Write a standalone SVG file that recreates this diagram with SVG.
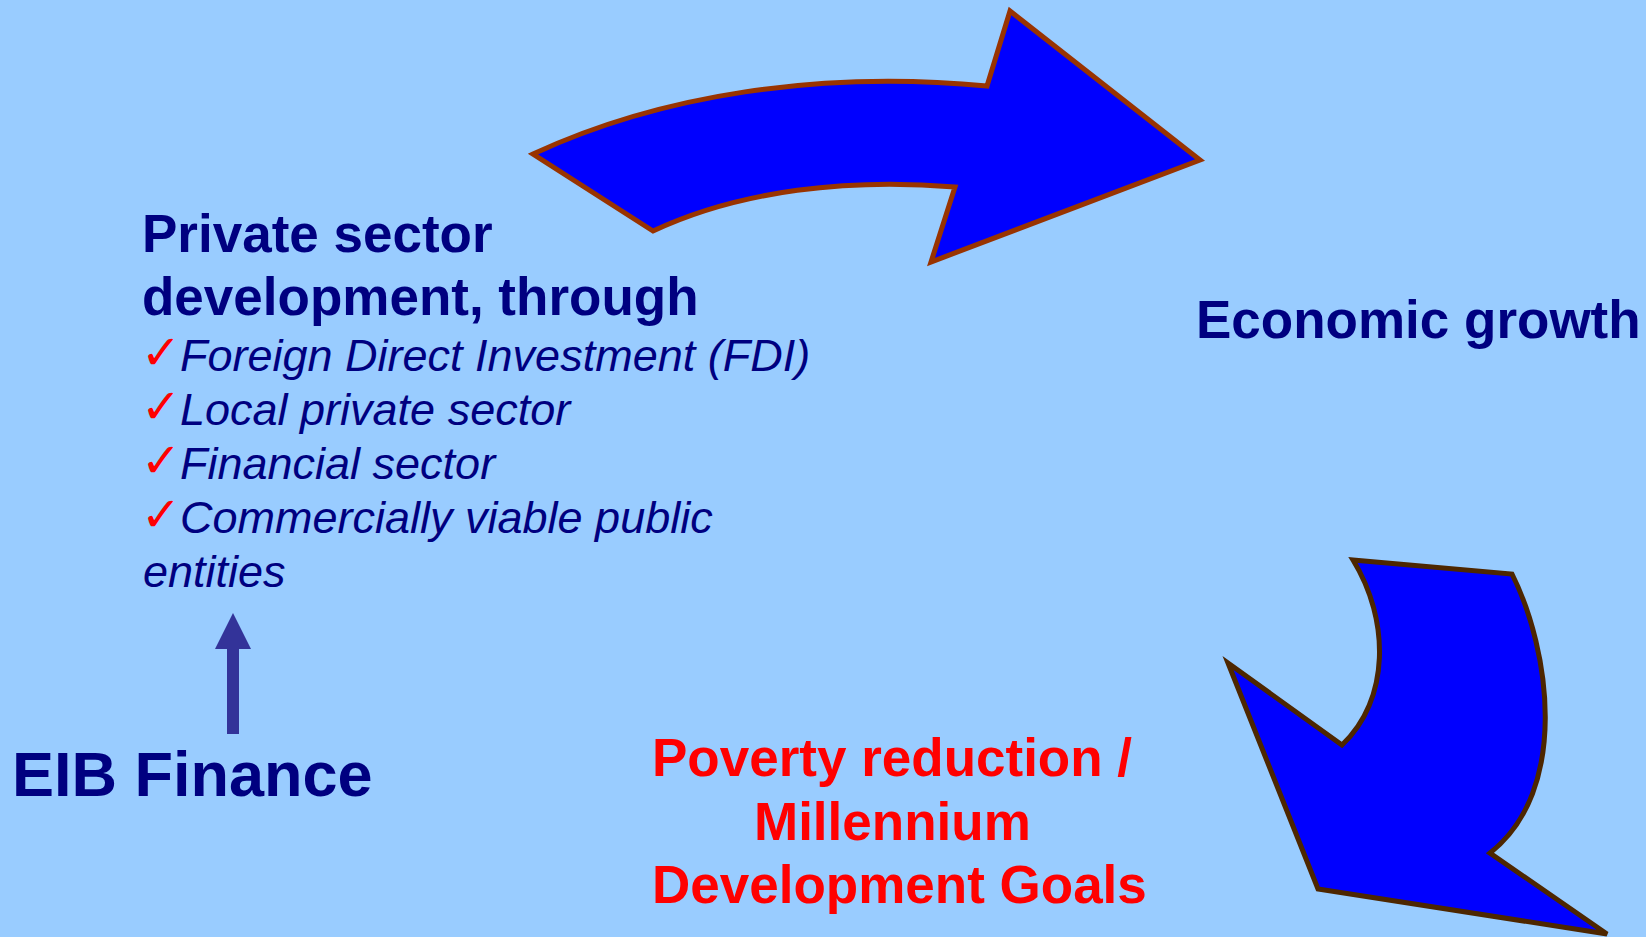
<svg xmlns="http://www.w3.org/2000/svg" width="1646" height="937" viewBox="0 0 1646 937">
  <style>
    .bold { font-family: "Liberation Sans", Arial, sans-serif; font-weight: bold; }
    .navy { fill: #000080; }
    .red { fill: #FF0000; }
    .item { font-family: "Liberation Sans", Arial, sans-serif; font-style: italic; font-size: 45px; fill: #000080; }
    .tick { font-family: "DejaVu Sans", sans-serif; font-size: 48px; fill: #FF0000; }
    .bigArrow { fill: #0000FF; stroke-width: 5; stroke-linejoin: miter; }
  </style>

  <rect width="1646" height="937" fill="#99CCFF"/>

  <g id="connectors">
    <!-- curved arrow: private sector development to economic growth -->
    <path id="arrow-growth" class="bigArrow" stroke="#993300"
          d="M533,154 C660,95 820,70 987,86 L1010,11 L1200,160 L931,262 L955,187 C850,178 740,190 653,231 Z"/>
    <!-- curved arrow: economic growth down to poverty reduction -->
    <path id="arrow-poverty" class="bigArrow" stroke="#4D2600"
          d="M1353,560 L1512,574 C1550,650 1570,790 1490,853 L1607,934 L1318,889 L1228,663 L1342,745 C1390,700 1390,620 1353,560 Z"/>
    <!-- straight arrow: EIB finance up to private sector -->
    <path id="arrow-finance" fill="#333399"
          d="M227,734 L227,649 L215,649 L233,613 L251,649 L239,649 L239,734 Z"/>
  </g>

  <g id="node-private-sector">
    <text class="bold navy" font-size="53" x="142" y="252">Private sector</text>
    <text class="bold navy" font-size="53" x="142" y="315">development, through</text>
    <text class="tick" x="141" y="369">✓</text>
    <text class="item" x="180" y="371">Foreign Direct Investment (FDI)</text>
    <text class="tick" x="141" y="423">✓</text>
    <text class="item" x="180" y="425">Local private sector</text>
    <text class="tick" x="141" y="477">✓</text>
    <text class="item" x="180" y="479">Financial sector</text>
    <text class="tick" x="141" y="531">✓</text>
    <text class="item" x="180" y="533">Commercially viable public</text>
    <text class="item" x="143" y="587">entities</text>
  </g>

  <g id="node-economic-growth">
    <text class="bold navy" font-size="53" x="1196" y="338">Economic growth</text>
  </g>

  <g id="node-poverty-reduction">
    <text class="bold red" font-size="53" x="652" y="776">Poverty reduction /</text>
    <text class="bold red" font-size="53" x="754" y="840">Millennium</text>
    <text class="bold red" font-size="53" x="652" y="903">Development Goals</text>
  </g>

  <g id="node-eib-finance">
    <text class="bold navy" font-size="63" x="12" y="796">EIB Finance</text>
  </g>
</svg>
